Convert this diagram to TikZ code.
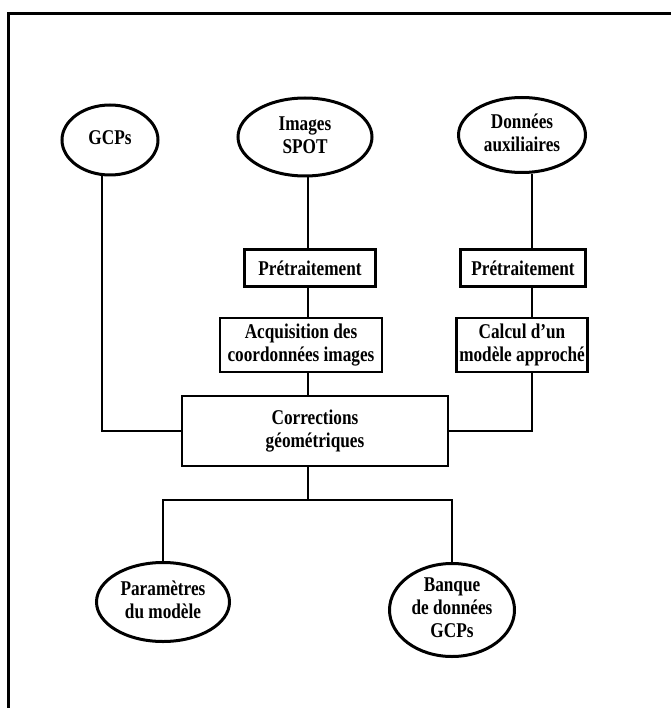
\documentclass[tikz,border=0pt]{standalone}
\usepackage{fontspec}
\setmainfont{Liberation Serif}[BoldFeatures={FakeStretch=0.82}]
\usetikzlibrary{shapes.geometric}
\newcommand\eltxt[1]{\raisebox{-0.25em}[0pt][0pt]{\makebox[0pt]{\begin{tabular}{@{}c@{}}#1\end{tabular}}}}
\begin{document}
\begin{tikzpicture}[x=1pt,y=-1pt,
  lbl/.style={font=\bfseries\fontsize{21}{23}\selectfont},
  box/.style={lbl,draw,line width=2.6pt,rectangle,align=center,inner sep=0pt},
  ell/.style={lbl,draw,line width=3pt,ellipse,inner sep=0pt},
  link/.style={line width=2.6pt}]
\useasboundingbox (0,0) rectangle (671,708);
\draw[line width=3pt] (8,708) -- (8,14) -- (671,14);

% top row ellipses
\node[ell,minimum width=96,minimum height=70] (gcp) at (110,140) {\eltxt{GCPs}};
\node[ell,minimum width=134,minimum height=78] (spot) at (305,137) {\eltxt{Images\\SPOT}};
\node[ell,minimum width=127,minimum height=75] (aux) at (522,135) {\eltxt{Données\\auxiliaires}};

% boxes
\node[box,minimum width=131,minimum height=37] (pre1) at (310,268) {Prétraitement};
\node[box,minimum width=125,minimum height=37] (pre2) at (523,268) {Prétraitement};
\node[box,minimum width=162,minimum height=54] (acq) at (301,345) {Acquisition des\\coordonnées images};
\node[box,minimum width=131,minimum height=54] (calc) at (522,345) {Calcul d’un\\modèle approché};
\node[box,minimum width=266,minimum height=70] (corr) at (315,431) {Corrections\\géométriques};

% bottom ellipses
\node[ell,minimum width=133,minimum height=79] (par) at (163,602) {\eltxt{Paramètres\\du modèle}};
\node[ell,minimum width=125,minimum height=93] (ban) at (452,610) {\eltxt{Banque\\de données\\GCPs}};

% junction coordinates
\coordinate (cx) at (308,0);
\coordinate (rx) at (532,0);
\coordinate (gx) at (102,0);
\coordinate (j) at (308,500);

% connectors
\draw[link] (spot.south -| cx) -- (pre1.north -| cx);
\draw[link] (pre1.south -| cx) -- (acq.north -| cx);
\draw[link] (acq.south -| cx) -- (corr.north -| cx);
\draw[link] (aux.south -| rx) -- (pre2.north -| rx);
\draw[link] (pre2.south -| rx) -- (calc.north -| rx);
\draw[link] (gcp.south -| gx) -- (gx |- corr.west) -- (corr.west);
\draw[link] (calc.south -| rx) -- (rx |- corr.east) -- (corr.east);
\draw[link] (corr.south -| j) -- (j);
\draw[link] (par.north) -- (par.north |- j) -- (ban.north |- j) -- (ban.north);
\end{tikzpicture}
\end{document}
